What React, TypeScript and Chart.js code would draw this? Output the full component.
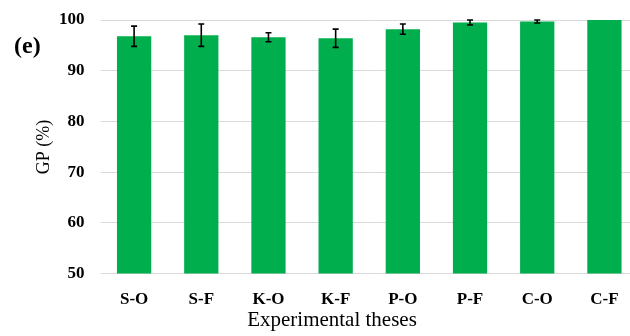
import React, { useEffect, useRef } from "react";
import { Chart, registerables } from "chart.js";

Chart.register(...registerables);

const categories = ["S-O", "S-F", "K-O", "K-F", "P-O", "P-F", "C-O", "C-F"];
const gpValues = [96.8, 97.0, 96.6, 96.4, 98.2, 99.5, 99.7, 100.0];
const gpErrors = [2.0, 2.2, 0.9, 1.8, 1.0, 0.5, 0.3, 0.0];
const yTicks = [50, 60, 70, 80, 90, 100];

const SERIF = "'Liberation Serif', 'DejaVu Serif', serif";

const errorBarPlugin = {
  id: "errorBars",
  afterDatasetsDraw(chart: any) {
    const { ctx, scales } = chart;
    const meta = chart.getDatasetMeta(0);
    const y = scales.y;
    ctx.save();
    ctx.strokeStyle = "#000000";
    ctx.lineWidth = 1.6;
    meta.data.forEach((bar: any, i: number) => {
      const e = gpErrors[i];
      if (!e) return;
      const v = gpValues[i];
      const x = bar.x;
      const yTop = y.getPixelForValue(Math.min(v + e, 100.1));
      const yBot = y.getPixelForValue(v - e);
      ctx.beginPath();
      ctx.moveTo(x, yTop);
      ctx.lineTo(x, yBot);
      ctx.moveTo(x - 3, yTop);
      ctx.lineTo(x + 3, yTop);
      ctx.moveTo(x - 3, yBot);
      ctx.lineTo(x + 3, yBot);
      ctx.stroke();
    });
    ctx.restore();
  },
};

const labelPlugin = {
  id: "extraLabels",
  afterDraw(chart: any) {
    const { ctx } = chart;
    ctx.save();
    ctx.fillStyle = "#000000";
    ctx.textBaseline = "middle";
    ctx.textAlign = "left";
    ctx.font = `bold 24px ${SERIF}`;
    ctx.fillText("(e)", 14, 47);
    ctx.textAlign = "center";
    ctx.font = `21px ${SERIF}`;
    ctx.fillText("Experimental theses", 332, 320);
    ctx.translate(44, 147);
    ctx.rotate(-Math.PI / 2);
    ctx.font = `18px ${SERIF}`;
    ctx.fillText("GP (%)", 0, 0);
    ctx.restore();
  },
};

export default function App() {
  const ref = useRef<HTMLCanvasElement | null>(null);
  useEffect(() => {
    document.body.style.margin = "0";
    if (!ref.current) return;
    const chart = new Chart(ref.current, {
      type: "bar",
      data: {
        labels: categories,
        datasets: [
          {
            data: gpValues,
            backgroundColor: "#00AE4D",
            borderColor: "#00AE4D",
            borderWidth: 0,
            barPercentage: 0.51,
            categoryPercentage: 1.0,
          },
        ],
      },
      options: {
        animation: false,
        responsive: false,
        maintainAspectRatio: false,
        layout: { padding: { top: 20, right: 0, bottom: 10, left: 59 } },
        plugins: { legend: { display: false }, tooltip: { enabled: false } },
        scales: {
          x: {
            grid: { display: false, drawTicks: false },
            border: { display: false },
            ticks: {
              color: "#000",
              font: { family: SERIF, size: 17, weight: "bold" },
              padding: 16,
              maxRotation: 0,
            },
          },
          y: {
            min: 50,
            max: 100,
            afterBuildTicks: (axis: any) => {
              axis.ticks = yTicks.map((v) => ({ value: v }));
            },
            grid: {
              color: "#d9d9d9",
              lineWidth: 1,
              drawTicks: true,
              tickLength: 16,
              tickColor: "rgba(0,0,0,0)",
            },
            border: { display: false },
            ticks: {
              color: "#000",
              font: { family: SERIF, size: 17, weight: "bold" },
              padding: 0,
            },
          },
        },
      },
      plugins: [errorBarPlugin, labelPlugin],
    });
    return () => chart.destroy();
  }, []);
  return (
    <div style={{ width: 630, height: 336, overflow: "hidden", position: "relative" }}>
      <canvas ref={ref} width={638} height={336} style={{ width: 638, height: 336, display: "block" }} />
    </div>
  );
}
